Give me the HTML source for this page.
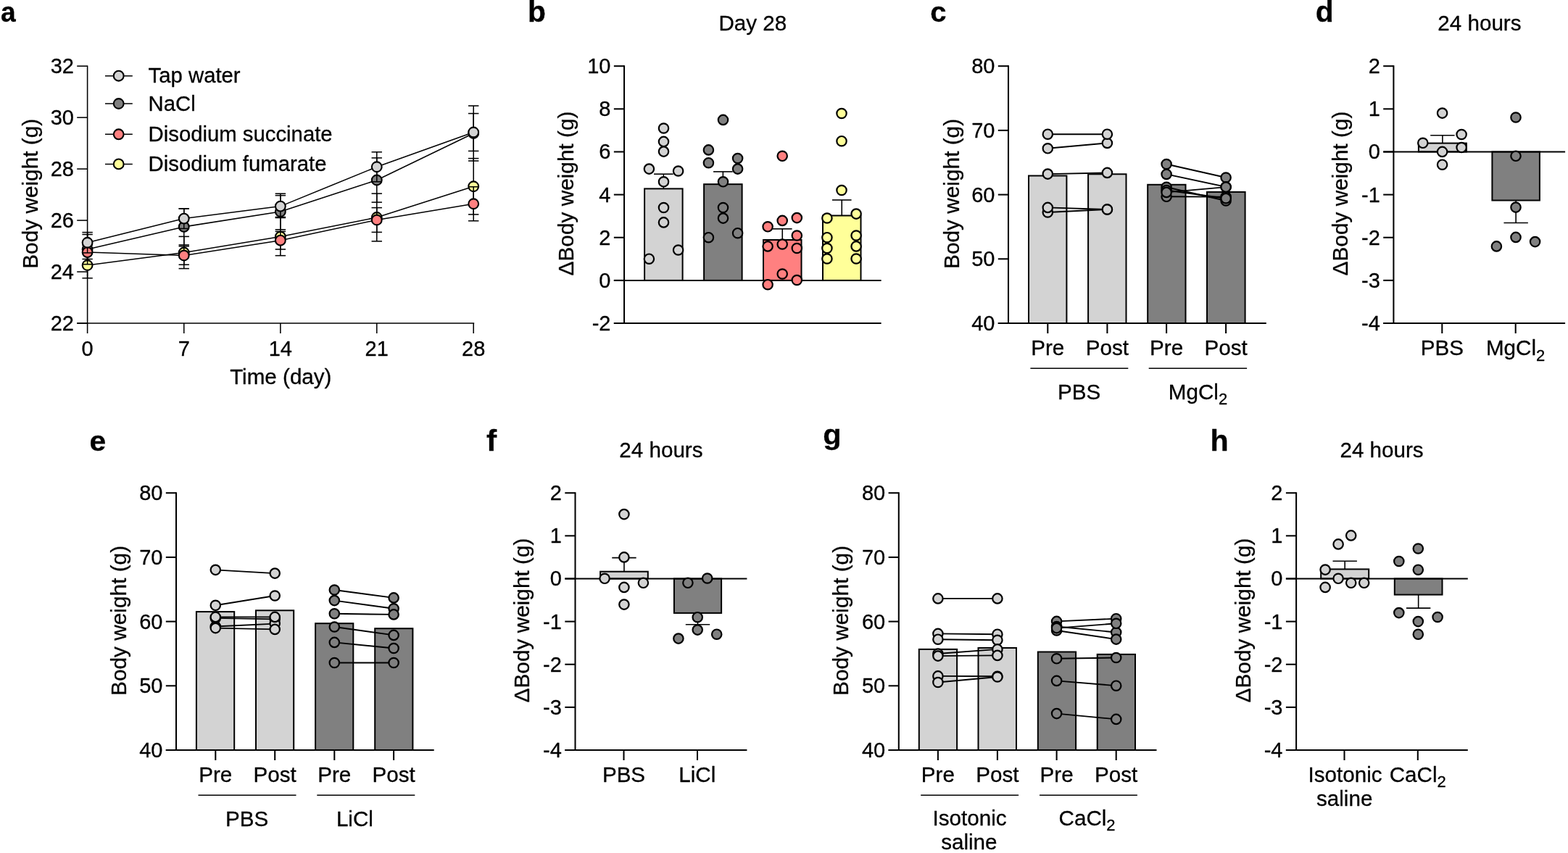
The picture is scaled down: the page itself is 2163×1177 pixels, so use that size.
<!DOCTYPE html>
<html lang="en">
<head>
<meta charset="utf-8">
<title>Body weight figure</title>
<style>
html,body{margin:0;padding:0;background:#fff}
body{width:2163px;height:1177px;overflow:hidden}
svg{display:block}
svg text{font-family:"Liberation Sans",sans-serif;font-size:29.6px;fill:#000;stroke:#000;stroke-width:0.3px;stroke-linejoin:round}
svg line,svg rect,svg circle,svg polyline{stroke:#000}
</style>
</head>
<body>
<svg width="2163" height="1177" viewBox="0 0 2163 1177" role="img" aria-label="Body weight figure, panels a to h">
<rect x="0" y="0" width="2163" height="1177" fill="#fff" stroke="none" style="stroke:none"/>
<text transform="translate(0.95 30.1) scale(0.93 0.98)" style="font-size:40px" font-weight="bold">a</text>
<text transform="translate(728.1 29.8) scale(1.02 1)" style="font-size:40px" font-weight="bold">b</text>
<text transform="translate(1283.3 30) scale(1 0.98)" style="font-size:40px" font-weight="bold">c</text>
<text transform="translate(1814.7 29.8) scale(1.02 1)" style="font-size:40px" font-weight="bold">d</text>
<text transform="translate(123.6 621.9) scale(1.02 0.98)" style="font-size:40px" font-weight="bold">e</text>
<text transform="translate(671 621.7) scale(1.06 1)" style="font-size:40px" font-weight="bold">f</text>
<text transform="translate(1135.3 613) scale(1.04 0.98)" style="font-size:40px" font-weight="bold">g</text>
<text transform="translate(1669.5 621.7) scale(1.03 1)" style="font-size:40px" font-weight="bold">h</text>
<text transform="translate(1038.3 42.2)" text-anchor="middle">Day 28</text>
<text transform="translate(2040.9 42.2)" text-anchor="middle">24 hours</text>
<text transform="translate(911.9 630.9)" text-anchor="middle">24 hours</text>
<text transform="translate(1906 630.9)" text-anchor="middle">24 hours</text>
<line x1="120.6" y1="90.42" x2="120.6" y2="446.77" stroke-width="1.55"/>
<line x1="106.2" y1="91.2" x2="120.6" y2="91.2" stroke-width="1.55"/>
<text transform="translate(102 101.1) scale(1 1.04)" text-anchor="end" style="font-size:29px">32</text>
<line x1="106.2" y1="162.16" x2="120.6" y2="162.16" stroke-width="1.55"/>
<text transform="translate(102 172.06) scale(1 1.04)" text-anchor="end" style="font-size:29px">30</text>
<line x1="106.2" y1="233.12" x2="120.6" y2="233.12" stroke-width="1.55"/>
<text transform="translate(102 243.02) scale(1 1.04)" text-anchor="end" style="font-size:29px">28</text>
<line x1="106.2" y1="304.08" x2="120.6" y2="304.08" stroke-width="1.55"/>
<text transform="translate(102 313.98) scale(1 1.04)" text-anchor="end" style="font-size:29px">26</text>
<line x1="106.2" y1="375.04" x2="120.6" y2="375.04" stroke-width="1.55"/>
<text transform="translate(102 384.94) scale(1 1.04)" text-anchor="end" style="font-size:29px">24</text>
<line x1="106.2" y1="446" x2="120.6" y2="446" stroke-width="1.55"/>
<text transform="translate(102 455.9) scale(1 1.04)" text-anchor="end" style="font-size:29px">22</text>
<line x1="106.2" y1="446" x2="654.2" y2="446" stroke-width="1.55"/>
<line x1="120.6" y1="446" x2="120.6" y2="460" stroke-width="1.55"/>
<text transform="translate(120.6 491.3) scale(1 1.04)" text-anchor="middle" style="font-size:29px">0</text>
<line x1="253.75" y1="446" x2="253.75" y2="460" stroke-width="1.55"/>
<text transform="translate(253.75 491.3) scale(1 1.04)" text-anchor="middle" style="font-size:29px">7</text>
<line x1="386.85" y1="446" x2="386.85" y2="460" stroke-width="1.55"/>
<text transform="translate(386.85 491.3) scale(1 1.04)" text-anchor="middle" style="font-size:29px">14</text>
<line x1="519.75" y1="446" x2="519.75" y2="460" stroke-width="1.55"/>
<text transform="translate(519.75 491.3) scale(1 1.04)" text-anchor="middle" style="font-size:29px">21</text>
<line x1="653.2" y1="446" x2="653.2" y2="460" stroke-width="1.55"/>
<text transform="translate(653.2 491.3) scale(1 1.04)" text-anchor="middle" style="font-size:29px">28</text>
<text transform="translate(387.3 530)" text-anchor="middle">Time (day)</text>
<text transform="translate(51.5 267.3) rotate(-90)" text-anchor="middle" style="font-size:29.8px">Body weight (g)</text>
<line x1="145" y1="104.7" x2="182.8" y2="104.7" stroke-width="1.55"/>
<circle cx="163.7" cy="104.7" r="6.9" fill="#d3d3d3" stroke-width="2.1"/>
<text transform="translate(204.6 113.8)" style="font-size:29.3px">Tap water</text>
<line x1="145" y1="143" x2="182.8" y2="143" stroke-width="1.55"/>
<circle cx="163.7" cy="143" r="6.9" fill="#808080" stroke-width="2.1"/>
<text transform="translate(204.6 152.5)" style="font-size:29.3px">NaCl</text>
<line x1="145" y1="185.3" x2="182.8" y2="185.3" stroke-width="1.55"/>
<circle cx="163.7" cy="185.3" r="6.9" fill="#ff8080" stroke-width="2.1"/>
<text transform="translate(204.6 194.8)" style="font-size:29.3px">Disodium succinate</text>
<line x1="145" y1="226.4" x2="182.8" y2="226.4" stroke-width="1.55"/>
<circle cx="163.7" cy="226.4" r="6.9" fill="#ffff99" stroke-width="2.1"/>
<text transform="translate(204.6 235.9)" style="font-size:29.3px">Disodium fumarate</text>
<line x1="120.6" y1="348.25" x2="120.6" y2="383.75" stroke-width="1.55"/>
<line x1="113.4" y1="348.25" x2="127.8" y2="348.25" stroke-width="1.55"/>
<line x1="113.4" y1="383.75" x2="127.8" y2="383.75" stroke-width="1.55"/>
<line x1="253.75" y1="326.4" x2="253.75" y2="370.6" stroke-width="1.55"/>
<line x1="246.55" y1="326.4" x2="260.95" y2="326.4" stroke-width="1.55"/>
<line x1="246.55" y1="370.6" x2="260.95" y2="370.6" stroke-width="1.55"/>
<line x1="386.85" y1="300.5" x2="386.85" y2="352.7" stroke-width="1.55"/>
<line x1="379.65" y1="300.5" x2="394.05" y2="300.5" stroke-width="1.55"/>
<line x1="379.65" y1="352.7" x2="394.05" y2="352.7" stroke-width="1.55"/>
<line x1="519.75" y1="267.1" x2="519.75" y2="332.9" stroke-width="1.55"/>
<line x1="512.55" y1="267.1" x2="526.95" y2="267.1" stroke-width="1.55"/>
<line x1="512.55" y1="332.9" x2="526.95" y2="332.9" stroke-width="1.55"/>
<line x1="653.2" y1="218.6" x2="653.2" y2="295.9" stroke-width="1.55"/>
<line x1="646" y1="218.6" x2="660.4" y2="218.6" stroke-width="1.55"/>
<line x1="646" y1="295.9" x2="660.4" y2="295.9" stroke-width="1.55"/>
<polyline points="120.6,366 253.75,348.5 386.85,326.6 519.75,300 653.2,257.25" fill="none" stroke-width="1.55"/>
<circle cx="120.6" cy="366" r="6.9" fill="#ffff99" stroke-width="2.1"/>
<circle cx="253.75" cy="348.5" r="6.9" fill="#ffff99" stroke-width="2.1"/>
<circle cx="386.85" cy="326.6" r="6.9" fill="#ffff99" stroke-width="2.1"/>
<circle cx="519.75" cy="300" r="6.9" fill="#ffff99" stroke-width="2.1"/>
<circle cx="653.2" cy="257.25" r="6.9" fill="#ffff99" stroke-width="2.1"/>
<line x1="120.6" y1="323.5" x2="120.6" y2="364.7" stroke-width="1.55"/>
<line x1="113.4" y1="323.5" x2="127.8" y2="323.5" stroke-width="1.55"/>
<line x1="113.4" y1="364.7" x2="127.8" y2="364.7" stroke-width="1.55"/>
<line x1="253.75" y1="287.9" x2="253.75" y2="337.9" stroke-width="1.55"/>
<line x1="246.55" y1="287.9" x2="260.95" y2="287.9" stroke-width="1.55"/>
<line x1="246.55" y1="337.9" x2="260.95" y2="337.9" stroke-width="1.55"/>
<line x1="386.85" y1="267.2" x2="386.85" y2="316.8" stroke-width="1.55"/>
<line x1="379.65" y1="267.2" x2="394.05" y2="267.2" stroke-width="1.55"/>
<line x1="379.65" y1="316.8" x2="394.05" y2="316.8" stroke-width="1.55"/>
<line x1="519.75" y1="217.9" x2="519.75" y2="279.1" stroke-width="1.55"/>
<line x1="512.55" y1="217.9" x2="526.95" y2="217.9" stroke-width="1.55"/>
<line x1="512.55" y1="279.1" x2="526.95" y2="279.1" stroke-width="1.55"/>
<line x1="653.2" y1="146" x2="653.2" y2="222" stroke-width="1.55"/>
<line x1="646" y1="146" x2="660.4" y2="146" stroke-width="1.55"/>
<line x1="646" y1="222" x2="660.4" y2="222" stroke-width="1.55"/>
<polyline points="120.6,344.1 253.75,312.9 386.85,292 519.75,248.5 653.2,184" fill="none" stroke-width="1.55"/>
<circle cx="120.6" cy="344.1" r="6.9" fill="#808080" stroke-width="2.1"/>
<circle cx="253.75" cy="312.9" r="6.9" fill="#808080" stroke-width="2.1"/>
<circle cx="386.85" cy="292" r="6.9" fill="#808080" stroke-width="2.1"/>
<circle cx="519.75" cy="248.5" r="6.9" fill="#808080" stroke-width="2.1"/>
<circle cx="653.2" cy="184" r="6.9" fill="#808080" stroke-width="2.1"/>
<line x1="120.6" y1="338.7" x2="120.6" y2="357.5" stroke-width="1.55"/>
<line x1="113.4" y1="338.7" x2="127.8" y2="338.7" stroke-width="1.55"/>
<line x1="113.4" y1="357.5" x2="127.8" y2="357.5" stroke-width="1.55"/>
<line x1="253.75" y1="339.75" x2="253.75" y2="365.25" stroke-width="1.55"/>
<line x1="246.55" y1="339.75" x2="260.95" y2="339.75" stroke-width="1.55"/>
<line x1="246.55" y1="365.25" x2="260.95" y2="365.25" stroke-width="1.55"/>
<line x1="386.85" y1="319.4" x2="386.85" y2="344" stroke-width="1.55"/>
<line x1="379.65" y1="319.4" x2="394.05" y2="319.4" stroke-width="1.55"/>
<line x1="379.65" y1="344" x2="394.05" y2="344" stroke-width="1.55"/>
<line x1="519.75" y1="286.6" x2="519.75" y2="320.4" stroke-width="1.55"/>
<line x1="512.55" y1="286.6" x2="526.95" y2="286.6" stroke-width="1.55"/>
<line x1="512.55" y1="320.4" x2="526.95" y2="320.4" stroke-width="1.55"/>
<line x1="653.2" y1="257.75" x2="653.2" y2="304.75" stroke-width="1.55"/>
<line x1="646" y1="257.75" x2="660.4" y2="257.75" stroke-width="1.55"/>
<line x1="646" y1="304.75" x2="660.4" y2="304.75" stroke-width="1.55"/>
<polyline points="120.6,348.1 253.75,352.5 386.85,331.7 519.75,303.5 653.2,281.25" fill="none" stroke-width="1.55"/>
<circle cx="120.6" cy="348.1" r="6.9" fill="#ff8080" stroke-width="2.1"/>
<circle cx="253.75" cy="352.5" r="6.9" fill="#ff8080" stroke-width="2.1"/>
<circle cx="386.85" cy="331.7" r="6.9" fill="#ff8080" stroke-width="2.1"/>
<circle cx="519.75" cy="303.5" r="6.9" fill="#ff8080" stroke-width="2.1"/>
<circle cx="653.2" cy="281.25" r="6.9" fill="#ff8080" stroke-width="2.1"/>
<line x1="120.6" y1="320.6" x2="120.6" y2="348.9" stroke-width="1.55"/>
<line x1="113.4" y1="320.6" x2="127.8" y2="320.6" stroke-width="1.55"/>
<line x1="113.4" y1="348.9" x2="127.8" y2="348.9" stroke-width="1.55"/>
<line x1="253.75" y1="287.75" x2="253.75" y2="315.45" stroke-width="1.55"/>
<line x1="246.55" y1="287.75" x2="260.95" y2="287.75" stroke-width="1.55"/>
<line x1="246.55" y1="315.45" x2="260.95" y2="315.45" stroke-width="1.55"/>
<line x1="386.85" y1="269.7" x2="386.85" y2="299.5" stroke-width="1.55"/>
<line x1="379.65" y1="269.7" x2="394.05" y2="269.7" stroke-width="1.55"/>
<line x1="379.65" y1="299.5" x2="394.05" y2="299.5" stroke-width="1.55"/>
<line x1="519.75" y1="209.75" x2="519.75" y2="250.75" stroke-width="1.55"/>
<line x1="512.55" y1="209.75" x2="526.95" y2="209.75" stroke-width="1.55"/>
<line x1="512.55" y1="250.75" x2="526.95" y2="250.75" stroke-width="1.55"/>
<line x1="653.2" y1="156.6" x2="653.2" y2="208.4" stroke-width="1.55"/>
<line x1="646" y1="156.6" x2="660.4" y2="156.6" stroke-width="1.55"/>
<line x1="646" y1="208.4" x2="660.4" y2="208.4" stroke-width="1.55"/>
<polyline points="120.6,334.75 253.75,301.6 386.85,284.6 519.75,230.25 653.2,182.5" fill="none" stroke-width="1.55"/>
<circle cx="120.6" cy="334.75" r="6.9" fill="#d3d3d3" stroke-width="2.1"/>
<circle cx="253.75" cy="301.6" r="6.9" fill="#d3d3d3" stroke-width="2.1"/>
<circle cx="386.85" cy="284.6" r="6.9" fill="#d3d3d3" stroke-width="2.1"/>
<circle cx="519.75" cy="230.25" r="6.9" fill="#d3d3d3" stroke-width="2.1"/>
<circle cx="653.2" cy="182.5" r="6.9" fill="#d3d3d3" stroke-width="2.1"/>
<rect x="889.1" y="260.4" width="52.5" height="126.5" fill="#d3d3d3" stroke-width="2"/>
<rect x="971.1" y="254.2" width="52.5" height="132.7" fill="#808080" stroke-width="2"/>
<rect x="1053" y="331" width="52.5" height="55.9" fill="#ff8080" stroke-width="2"/>
<rect x="1135" y="297.5" width="52.5" height="89.4" fill="#ffff99" stroke-width="2"/>
<line x1="861.05" y1="90.17" x2="861.05" y2="447.02" stroke-width="2.05"/>
<line x1="846.85" y1="91.2" x2="861.05" y2="91.2" stroke-width="2.05"/>
<text transform="translate(842.45 101.1) scale(1 1.04)" text-anchor="end" style="font-size:29px">10</text>
<line x1="846.85" y1="150.33" x2="861.05" y2="150.33" stroke-width="2.05"/>
<text transform="translate(842.45 160.23) scale(1 1.04)" text-anchor="end" style="font-size:29px">8</text>
<line x1="846.85" y1="209.47" x2="861.05" y2="209.47" stroke-width="2.05"/>
<text transform="translate(842.45 219.37) scale(1 1.04)" text-anchor="end" style="font-size:29px">6</text>
<line x1="846.85" y1="268.6" x2="861.05" y2="268.6" stroke-width="2.05"/>
<text transform="translate(842.45 278.5) scale(1 1.04)" text-anchor="end" style="font-size:29px">4</text>
<line x1="846.85" y1="327.73" x2="861.05" y2="327.73" stroke-width="2.05"/>
<text transform="translate(842.45 337.63) scale(1 1.04)" text-anchor="end" style="font-size:29px">2</text>
<line x1="846.85" y1="386.87" x2="861.05" y2="386.87" stroke-width="2.05"/>
<text transform="translate(842.45 396.77) scale(1 1.04)" text-anchor="end" style="font-size:29px">0</text>
<line x1="846.85" y1="446" x2="861.05" y2="446" stroke-width="2.05"/>
<text transform="translate(842.45 455.9) scale(1 1.04)" text-anchor="end" style="font-size:29px">-2</text>
<line x1="846.85" y1="446" x2="1215.6" y2="446" stroke-width="2.05"/>
<line x1="846.85" y1="386.9" x2="1215.6" y2="386.9" stroke-width="2.05"/>
<text transform="translate(790.6 267) rotate(-90)" text-anchor="middle" style="font-size:29.8px">ΔBody weight (g)</text>
<line x1="915.35" y1="260.4" x2="915.35" y2="240.2" stroke-width="1.6"/>
<line x1="902.05" y1="240.2" x2="928.65" y2="240.2" stroke-width="1.6"/>
<line x1="997.35" y1="254.2" x2="997.35" y2="236.9" stroke-width="1.6"/>
<line x1="984.05" y1="236.9" x2="1010.65" y2="236.9" stroke-width="1.6"/>
<line x1="1079.25" y1="331" x2="1079.25" y2="315.8" stroke-width="1.6"/>
<line x1="1065.95" y1="315.8" x2="1092.55" y2="315.8" stroke-width="1.6"/>
<line x1="1161.25" y1="297.5" x2="1161.25" y2="275.95" stroke-width="1.6"/>
<line x1="1147.95" y1="275.95" x2="1174.55" y2="275.95" stroke-width="1.6"/>
<circle cx="915.5" cy="177" r="6.7" fill="#d3d3d3" stroke-width="2.2"/>
<circle cx="915.5" cy="195.4" r="6.7" fill="#d3d3d3" stroke-width="2.2"/>
<circle cx="915.5" cy="209.1" r="6.7" fill="#d3d3d3" stroke-width="2.2"/>
<circle cx="895.4" cy="233.1" r="6.7" fill="#d3d3d3" stroke-width="2.2"/>
<circle cx="935.6" cy="236" r="6.7" fill="#d3d3d3" stroke-width="2.2"/>
<circle cx="915.5" cy="250.8" r="6.7" fill="#d3d3d3" stroke-width="2.2"/>
<circle cx="915.5" cy="286.5" r="6.7" fill="#d3d3d3" stroke-width="2.2"/>
<circle cx="915.5" cy="306.9" r="6.7" fill="#d3d3d3" stroke-width="2.2"/>
<circle cx="935.6" cy="345" r="6.7" fill="#d3d3d3" stroke-width="2.2"/>
<circle cx="895.4" cy="357.2" r="6.7" fill="#d3d3d3" stroke-width="2.2"/>
<circle cx="997.5" cy="165.4" r="6.7" fill="#808080" stroke-width="2.2"/>
<circle cx="977.4" cy="206.9" r="6.7" fill="#808080" stroke-width="2.2"/>
<circle cx="977.4" cy="224.7" r="6.7" fill="#808080" stroke-width="2.2"/>
<circle cx="1017.6" cy="218.5" r="6.7" fill="#808080" stroke-width="2.2"/>
<circle cx="1017.6" cy="233.1" r="6.7" fill="#808080" stroke-width="2.2"/>
<circle cx="997.5" cy="250.8" r="6.7" fill="#808080" stroke-width="2.2"/>
<circle cx="997.5" cy="286.5" r="6.7" fill="#808080" stroke-width="2.2"/>
<circle cx="997.5" cy="301.1" r="6.7" fill="#808080" stroke-width="2.2"/>
<circle cx="977.4" cy="327.7" r="6.7" fill="#808080" stroke-width="2.2"/>
<circle cx="1017.6" cy="321.7" r="6.7" fill="#808080" stroke-width="2.2"/>
<circle cx="1079.2" cy="215.3" r="6.7" fill="#ff8080" stroke-width="2.2"/>
<circle cx="1079.2" cy="304.4" r="6.7" fill="#ff8080" stroke-width="2.2"/>
<circle cx="1099.3" cy="300.6" r="6.7" fill="#ff8080" stroke-width="2.2"/>
<circle cx="1059.1" cy="312.8" r="6.7" fill="#ff8080" stroke-width="2.2"/>
<circle cx="1099.3" cy="325" r="6.7" fill="#ff8080" stroke-width="2.2"/>
<circle cx="1079.2" cy="337" r="6.7" fill="#ff8080" stroke-width="2.2"/>
<circle cx="1059.1" cy="339.9" r="6.7" fill="#ff8080" stroke-width="2.2"/>
<circle cx="1099.3" cy="342.5" r="6.7" fill="#ff8080" stroke-width="2.2"/>
<circle cx="1079.2" cy="378" r="6.7" fill="#ff8080" stroke-width="2.2"/>
<circle cx="1099.3" cy="386.5" r="6.7" fill="#ff8080" stroke-width="2.2"/>
<circle cx="1059.1" cy="392.7" r="6.7" fill="#ff8080" stroke-width="2.2"/>
<circle cx="1161" cy="156.5" r="6.7" fill="#ffff99" stroke-width="2.2"/>
<circle cx="1161" cy="194.7" r="6.7" fill="#ffff99" stroke-width="2.2"/>
<circle cx="1161" cy="262.5" r="6.7" fill="#ffff99" stroke-width="2.2"/>
<circle cx="1181.1" cy="295.1" r="6.7" fill="#ffff99" stroke-width="2.2"/>
<circle cx="1140.9" cy="301" r="6.7" fill="#ffff99" stroke-width="2.2"/>
<circle cx="1181.1" cy="325" r="6.7" fill="#ffff99" stroke-width="2.2"/>
<circle cx="1140.9" cy="327.7" r="6.7" fill="#ffff99" stroke-width="2.2"/>
<circle cx="1181.1" cy="339.9" r="6.7" fill="#ffff99" stroke-width="2.2"/>
<circle cx="1140.9" cy="342.5" r="6.7" fill="#ffff99" stroke-width="2.2"/>
<circle cx="1140.9" cy="357" r="6.7" fill="#ffff99" stroke-width="2.2"/>
<circle cx="1181.1" cy="357" r="6.7" fill="#ffff99" stroke-width="2.2"/>
<rect x="1419" y="242.5" width="52.4" height="203.5" fill="#d3d3d3" stroke-width="2"/>
<rect x="1501.1" y="240.3" width="52.4" height="205.7" fill="#d3d3d3" stroke-width="2"/>
<rect x="1583.2" y="254.8" width="52.3" height="191.2" fill="#808080" stroke-width="2"/>
<rect x="1665" y="264.9" width="52.6" height="181.1" fill="#808080" stroke-width="2"/>
<line x1="1391" y1="90.17" x2="1391" y2="447.02" stroke-width="2.05"/>
<line x1="1376.8" y1="91.2" x2="1391" y2="91.2" stroke-width="2.05"/>
<text transform="translate(1372.4 101.1) scale(1 1.04)" text-anchor="end" style="font-size:29px">80</text>
<line x1="1376.8" y1="179.9" x2="1391" y2="179.9" stroke-width="2.05"/>
<text transform="translate(1372.4 189.8) scale(1 1.04)" text-anchor="end" style="font-size:29px">70</text>
<line x1="1376.8" y1="268.6" x2="1391" y2="268.6" stroke-width="2.05"/>
<text transform="translate(1372.4 278.5) scale(1 1.04)" text-anchor="end" style="font-size:29px">60</text>
<line x1="1376.8" y1="357.3" x2="1391" y2="357.3" stroke-width="2.05"/>
<text transform="translate(1372.4 367.2) scale(1 1.04)" text-anchor="end" style="font-size:29px">50</text>
<line x1="1376.8" y1="446" x2="1391" y2="446" stroke-width="2.05"/>
<text transform="translate(1372.4 455.9) scale(1 1.04)" text-anchor="end" style="font-size:29px">40</text>
<line x1="1376.8" y1="446" x2="1746.8" y2="446" stroke-width="2.05"/>
<line x1="1445.3" y1="446" x2="1445.3" y2="460" stroke-width="2.05"/>
<line x1="1527.4" y1="446" x2="1527.4" y2="460" stroke-width="2.05"/>
<line x1="1609.1" y1="446" x2="1609.1" y2="460" stroke-width="2.05"/>
<line x1="1691.1" y1="446" x2="1691.1" y2="460" stroke-width="2.05"/>
<line x1="1445.3" y1="293" x2="1527.4" y2="289" stroke-width="1.9"/>
<line x1="1445.3" y1="286.4" x2="1527.4" y2="289" stroke-width="1.9"/>
<line x1="1445.3" y1="240.1" x2="1527.4" y2="238.4" stroke-width="1.9"/>
<line x1="1445.3" y1="204.8" x2="1527.4" y2="197.4" stroke-width="1.9"/>
<line x1="1445.3" y1="185.2" x2="1527.4" y2="185.2" stroke-width="1.9"/>
<circle cx="1445.3" cy="293" r="6.7" fill="#d3d3d3" stroke-width="2.2"/>
<circle cx="1445.3" cy="286.4" r="6.7" fill="#d3d3d3" stroke-width="2.2"/>
<circle cx="1445.3" cy="240.1" r="6.7" fill="#d3d3d3" stroke-width="2.2"/>
<circle cx="1445.3" cy="204.8" r="6.7" fill="#d3d3d3" stroke-width="2.2"/>
<circle cx="1445.3" cy="185.2" r="6.7" fill="#d3d3d3" stroke-width="2.2"/>
<circle cx="1527.4" cy="289" r="6.7" fill="#d3d3d3" stroke-width="2.2"/>
<circle cx="1527.4" cy="289" r="6.7" fill="#d3d3d3" stroke-width="2.2"/>
<circle cx="1527.4" cy="238.4" r="6.7" fill="#d3d3d3" stroke-width="2.2"/>
<circle cx="1527.4" cy="197.4" r="6.7" fill="#d3d3d3" stroke-width="2.2"/>
<circle cx="1527.4" cy="185.2" r="6.7" fill="#d3d3d3" stroke-width="2.2"/>
<line x1="1609.1" y1="226.5" x2="1691.1" y2="245" stroke-width="1.9"/>
<line x1="1609.1" y1="240.4" x2="1691.1" y2="257.9" stroke-width="1.9"/>
<line x1="1609.1" y1="271.3" x2="1691.1" y2="271.6" stroke-width="1.9"/>
<line x1="1609.1" y1="258.3" x2="1691.1" y2="277" stroke-width="1.9"/>
<line x1="1609.1" y1="262.5" x2="1691.1" y2="273.7" stroke-width="1.9"/>
<line x1="1609.1" y1="265.4" x2="1691.1" y2="258.1" stroke-width="1.9"/>
<circle cx="1609.1" cy="226.5" r="6.7" fill="#808080" stroke-width="2.2"/>
<circle cx="1609.1" cy="240.4" r="6.7" fill="#808080" stroke-width="2.2"/>
<circle cx="1609.1" cy="271.3" r="6.7" fill="#808080" stroke-width="2.2"/>
<circle cx="1609.1" cy="258.3" r="6.7" fill="#808080" stroke-width="2.2"/>
<circle cx="1609.1" cy="262.5" r="6.7" fill="#808080" stroke-width="2.2"/>
<circle cx="1609.1" cy="265.4" r="6.7" fill="#808080" stroke-width="2.2"/>
<circle cx="1691.1" cy="245" r="6.7" fill="#808080" stroke-width="2.2"/>
<circle cx="1691.1" cy="257.9" r="6.7" fill="#808080" stroke-width="2.2"/>
<circle cx="1691.1" cy="271.6" r="6.7" fill="#808080" stroke-width="2.2"/>
<circle cx="1691.1" cy="277" r="6.7" fill="#808080" stroke-width="2.2"/>
<circle cx="1691.1" cy="273.7" r="6.7" fill="#808080" stroke-width="2.2"/>
<circle cx="1691.1" cy="258.1" r="6.7" fill="#808080" stroke-width="2.2"/>
<text transform="translate(1445.3 490.3)" text-anchor="middle">Pre</text>
<text transform="translate(1527.4 490.3)" text-anchor="middle">Post</text>
<text transform="translate(1609.1 490.3)" text-anchor="middle">Pre</text>
<text transform="translate(1691.1 490.3)" text-anchor="middle">Post</text>
<line x1="1421.4" y1="508.2" x2="1556.3" y2="508.2" stroke-width="1.6"/>
<line x1="1584.7" y1="508.2" x2="1720.1" y2="508.2" stroke-width="1.6"/>
<text transform="translate(1322.7 267.4) rotate(-90)" text-anchor="middle" style="font-size:29.8px">Body weight (g)</text>
<text transform="translate(1488.6 550.8)" text-anchor="middle">PBS</text>
<text transform="translate(1652.5 550.8)" text-anchor="middle">MgCl<tspan font-size="22" dy="7.4">2</tspan></text>
<rect x="270.9" y="844.1" width="52.3" height="190.9" fill="#d3d3d3" stroke-width="2"/>
<rect x="353" y="842.3" width="52.2" height="192.7" fill="#d3d3d3" stroke-width="2"/>
<rect x="435.1" y="860.2" width="52.2" height="174.8" fill="#808080" stroke-width="2"/>
<rect x="517.2" y="867.2" width="52.2" height="167.8" fill="#808080" stroke-width="2"/>
<line x1="243" y1="679.18" x2="243" y2="1036.03" stroke-width="2.05"/>
<line x1="228.8" y1="680.2" x2="243" y2="680.2" stroke-width="2.05"/>
<text transform="translate(224.4 690.1) scale(1 1.04)" text-anchor="end" style="font-size:29px">80</text>
<line x1="228.8" y1="768.9" x2="243" y2="768.9" stroke-width="2.05"/>
<text transform="translate(224.4 778.8) scale(1 1.04)" text-anchor="end" style="font-size:29px">70</text>
<line x1="228.8" y1="857.6" x2="243" y2="857.6" stroke-width="2.05"/>
<text transform="translate(224.4 867.5) scale(1 1.04)" text-anchor="end" style="font-size:29px">60</text>
<line x1="228.8" y1="946.3" x2="243" y2="946.3" stroke-width="2.05"/>
<text transform="translate(224.4 956.2) scale(1 1.04)" text-anchor="end" style="font-size:29px">50</text>
<line x1="228.8" y1="1035" x2="243" y2="1035" stroke-width="2.05"/>
<text transform="translate(224.4 1044.9) scale(1 1.04)" text-anchor="end" style="font-size:29px">40</text>
<line x1="228.8" y1="1035" x2="598.7" y2="1035" stroke-width="2.05"/>
<line x1="297.3" y1="1035" x2="297.3" y2="1049" stroke-width="2.05"/>
<line x1="379.2" y1="1035" x2="379.2" y2="1049" stroke-width="2.05"/>
<line x1="461.3" y1="1035" x2="461.3" y2="1049" stroke-width="2.05"/>
<line x1="543.1" y1="1035" x2="543.1" y2="1049" stroke-width="2.05"/>
<line x1="297.3" y1="786.35" x2="379.2" y2="791.1" stroke-width="1.9"/>
<line x1="297.3" y1="835.3" x2="379.2" y2="822" stroke-width="1.9"/>
<line x1="297.3" y1="852.9" x2="379.2" y2="854.4" stroke-width="1.9"/>
<line x1="297.3" y1="864.5" x2="379.2" y2="860.6" stroke-width="1.9"/>
<line x1="297.3" y1="851.4" x2="379.2" y2="851.4" stroke-width="1.9"/>
<line x1="297.3" y1="866.6" x2="379.2" y2="868.4" stroke-width="1.9"/>
<circle cx="297.3" cy="786.35" r="6.7" fill="#d3d3d3" stroke-width="2.2"/>
<circle cx="297.3" cy="835.3" r="6.7" fill="#d3d3d3" stroke-width="2.2"/>
<circle cx="297.3" cy="852.9" r="6.7" fill="#d3d3d3" stroke-width="2.2"/>
<circle cx="297.3" cy="864.5" r="6.7" fill="#d3d3d3" stroke-width="2.2"/>
<circle cx="297.3" cy="851.4" r="6.7" fill="#d3d3d3" stroke-width="2.2"/>
<circle cx="297.3" cy="866.6" r="6.7" fill="#d3d3d3" stroke-width="2.2"/>
<circle cx="379.2" cy="791.1" r="6.7" fill="#d3d3d3" stroke-width="2.2"/>
<circle cx="379.2" cy="822" r="6.7" fill="#d3d3d3" stroke-width="2.2"/>
<circle cx="379.2" cy="854.4" r="6.7" fill="#d3d3d3" stroke-width="2.2"/>
<circle cx="379.2" cy="860.6" r="6.7" fill="#d3d3d3" stroke-width="2.2"/>
<circle cx="379.2" cy="851.4" r="6.7" fill="#d3d3d3" stroke-width="2.2"/>
<circle cx="379.2" cy="868.4" r="6.7" fill="#d3d3d3" stroke-width="2.2"/>
<line x1="461.3" y1="814" x2="543.1" y2="824.9" stroke-width="1.9"/>
<line x1="461.3" y1="828.6" x2="543.1" y2="839.8" stroke-width="1.9"/>
<line x1="461.3" y1="846.8" x2="543.1" y2="847.9" stroke-width="1.9"/>
<line x1="461.3" y1="865" x2="543.1" y2="876.4" stroke-width="1.9"/>
<line x1="461.3" y1="886.4" x2="543.1" y2="894.5" stroke-width="1.9"/>
<line x1="461.3" y1="914.5" x2="543.1" y2="914.5" stroke-width="1.9"/>
<circle cx="461.3" cy="814" r="6.7" fill="#808080" stroke-width="2.2"/>
<circle cx="461.3" cy="828.6" r="6.7" fill="#808080" stroke-width="2.2"/>
<circle cx="461.3" cy="846.8" r="6.7" fill="#808080" stroke-width="2.2"/>
<circle cx="461.3" cy="865" r="6.7" fill="#808080" stroke-width="2.2"/>
<circle cx="461.3" cy="886.4" r="6.7" fill="#808080" stroke-width="2.2"/>
<circle cx="461.3" cy="914.5" r="6.7" fill="#808080" stroke-width="2.2"/>
<circle cx="543.1" cy="824.9" r="6.7" fill="#808080" stroke-width="2.2"/>
<circle cx="543.1" cy="839.8" r="6.7" fill="#808080" stroke-width="2.2"/>
<circle cx="543.1" cy="847.9" r="6.7" fill="#808080" stroke-width="2.2"/>
<circle cx="543.1" cy="876.4" r="6.7" fill="#808080" stroke-width="2.2"/>
<circle cx="543.1" cy="894.5" r="6.7" fill="#808080" stroke-width="2.2"/>
<circle cx="543.1" cy="914.5" r="6.7" fill="#808080" stroke-width="2.2"/>
<text transform="translate(297.3 1079)" text-anchor="middle">Pre</text>
<text transform="translate(379.2 1079)" text-anchor="middle">Post</text>
<text transform="translate(461.3 1079)" text-anchor="middle">Pre</text>
<text transform="translate(543.1 1079)" text-anchor="middle">Post</text>
<line x1="273.5" y1="1097.3" x2="408.5" y2="1097.3" stroke-width="1.6"/>
<line x1="437.3" y1="1097.3" x2="572.3" y2="1097.3" stroke-width="1.6"/>
<text transform="translate(174 856.4) rotate(-90)" text-anchor="middle" style="font-size:29.8px">Body weight (g)</text>
<text transform="translate(340.6 1139.7)" text-anchor="middle">PBS</text>
<text transform="translate(489.4 1139.7)" text-anchor="middle">LiCl</text>
<rect x="1267.8" y="895.9" width="52.3" height="139.1" fill="#d3d3d3" stroke-width="2"/>
<rect x="1349.5" y="894" width="52.5" height="141" fill="#d3d3d3" stroke-width="2"/>
<rect x="1431.8" y="899.5" width="52.3" height="135.5" fill="#808080" stroke-width="2"/>
<rect x="1513.7" y="902.9" width="52.3" height="132.1" fill="#808080" stroke-width="2"/>
<line x1="1239.8" y1="679.18" x2="1239.8" y2="1036.03" stroke-width="2.05"/>
<line x1="1225.6" y1="680.2" x2="1239.8" y2="680.2" stroke-width="2.05"/>
<text transform="translate(1221.2 690.1) scale(1 1.04)" text-anchor="end" style="font-size:29px">80</text>
<line x1="1225.6" y1="768.9" x2="1239.8" y2="768.9" stroke-width="2.05"/>
<text transform="translate(1221.2 778.8) scale(1 1.04)" text-anchor="end" style="font-size:29px">70</text>
<line x1="1225.6" y1="857.6" x2="1239.8" y2="857.6" stroke-width="2.05"/>
<text transform="translate(1221.2 867.5) scale(1 1.04)" text-anchor="end" style="font-size:29px">60</text>
<line x1="1225.6" y1="946.3" x2="1239.8" y2="946.3" stroke-width="2.05"/>
<text transform="translate(1221.2 956.2) scale(1 1.04)" text-anchor="end" style="font-size:29px">50</text>
<line x1="1225.6" y1="1035" x2="1239.8" y2="1035" stroke-width="2.05"/>
<text transform="translate(1221.2 1044.9) scale(1 1.04)" text-anchor="end" style="font-size:29px">40</text>
<line x1="1225.6" y1="1035" x2="1595.5" y2="1035" stroke-width="2.05"/>
<line x1="1293.9" y1="1035" x2="1293.9" y2="1049" stroke-width="2.05"/>
<line x1="1375.9" y1="1035" x2="1375.9" y2="1049" stroke-width="2.05"/>
<line x1="1457.6" y1="1035" x2="1457.6" y2="1049" stroke-width="2.05"/>
<line x1="1539.7" y1="1035" x2="1539.7" y2="1049" stroke-width="2.05"/>
<line x1="1293.9" y1="825.9" x2="1375.9" y2="825.9" stroke-width="1.9"/>
<line x1="1293.9" y1="874.4" x2="1375.9" y2="875.2" stroke-width="1.9"/>
<line x1="1293.9" y1="882.2" x2="1375.9" y2="883.3" stroke-width="1.9"/>
<line x1="1293.9" y1="902" x2="1375.9" y2="895.9" stroke-width="1.9"/>
<line x1="1293.9" y1="905.1" x2="1375.9" y2="904.4" stroke-width="1.9"/>
<line x1="1293.9" y1="932.9" x2="1375.9" y2="933.2" stroke-width="1.9"/>
<line x1="1293.9" y1="941.5" x2="1375.9" y2="934" stroke-width="1.9"/>
<circle cx="1293.9" cy="825.9" r="6.7" fill="#d3d3d3" stroke-width="2.2"/>
<circle cx="1293.9" cy="874.4" r="6.7" fill="#d3d3d3" stroke-width="2.2"/>
<circle cx="1293.9" cy="882.2" r="6.7" fill="#d3d3d3" stroke-width="2.2"/>
<circle cx="1293.9" cy="902" r="6.7" fill="#d3d3d3" stroke-width="2.2"/>
<circle cx="1293.9" cy="905.1" r="6.7" fill="#d3d3d3" stroke-width="2.2"/>
<circle cx="1293.9" cy="932.9" r="6.7" fill="#d3d3d3" stroke-width="2.2"/>
<circle cx="1293.9" cy="941.5" r="6.7" fill="#d3d3d3" stroke-width="2.2"/>
<circle cx="1375.9" cy="825.9" r="6.7" fill="#d3d3d3" stroke-width="2.2"/>
<circle cx="1375.9" cy="875.2" r="6.7" fill="#d3d3d3" stroke-width="2.2"/>
<circle cx="1375.9" cy="883.3" r="6.7" fill="#d3d3d3" stroke-width="2.2"/>
<circle cx="1375.9" cy="895.9" r="6.7" fill="#d3d3d3" stroke-width="2.2"/>
<circle cx="1375.9" cy="904.4" r="6.7" fill="#d3d3d3" stroke-width="2.2"/>
<circle cx="1375.9" cy="933.2" r="6.7" fill="#d3d3d3" stroke-width="2.2"/>
<circle cx="1375.9" cy="934" r="6.7" fill="#d3d3d3" stroke-width="2.2"/>
<line x1="1457.6" y1="857.4" x2="1539.7" y2="853.7" stroke-width="1.9"/>
<line x1="1457.6" y1="864.5" x2="1539.7" y2="872.5" stroke-width="1.9"/>
<line x1="1457.6" y1="870" x2="1539.7" y2="882.1" stroke-width="1.9"/>
<line x1="1457.6" y1="866.6" x2="1539.7" y2="860.3" stroke-width="1.9"/>
<line x1="1457.6" y1="908.8" x2="1539.7" y2="907.5" stroke-width="1.9"/>
<line x1="1457.6" y1="939.4" x2="1539.7" y2="946.2" stroke-width="1.9"/>
<line x1="1457.6" y1="984.6" x2="1539.7" y2="992.4" stroke-width="1.9"/>
<circle cx="1457.6" cy="857.4" r="6.7" fill="#808080" stroke-width="2.2"/>
<circle cx="1457.6" cy="864.5" r="6.7" fill="#808080" stroke-width="2.2"/>
<circle cx="1457.6" cy="870" r="6.7" fill="#808080" stroke-width="2.2"/>
<circle cx="1457.6" cy="866.6" r="6.7" fill="#808080" stroke-width="2.2"/>
<circle cx="1457.6" cy="908.8" r="6.7" fill="#808080" stroke-width="2.2"/>
<circle cx="1457.6" cy="939.4" r="6.7" fill="#808080" stroke-width="2.2"/>
<circle cx="1457.6" cy="984.6" r="6.7" fill="#808080" stroke-width="2.2"/>
<circle cx="1539.7" cy="853.7" r="6.7" fill="#808080" stroke-width="2.2"/>
<circle cx="1539.7" cy="872.5" r="6.7" fill="#808080" stroke-width="2.2"/>
<circle cx="1539.7" cy="882.1" r="6.7" fill="#808080" stroke-width="2.2"/>
<circle cx="1539.7" cy="860.3" r="6.7" fill="#808080" stroke-width="2.2"/>
<circle cx="1539.7" cy="907.5" r="6.7" fill="#808080" stroke-width="2.2"/>
<circle cx="1539.7" cy="946.2" r="6.7" fill="#808080" stroke-width="2.2"/>
<circle cx="1539.7" cy="992.4" r="6.7" fill="#808080" stroke-width="2.2"/>
<text transform="translate(1293.9 1079)" text-anchor="middle">Pre</text>
<text transform="translate(1375.9 1079)" text-anchor="middle">Post</text>
<text transform="translate(1457.6 1079)" text-anchor="middle">Pre</text>
<text transform="translate(1539.7 1079)" text-anchor="middle">Post</text>
<line x1="1270.2" y1="1097.3" x2="1405.1" y2="1097.3" stroke-width="1.6"/>
<line x1="1434" y1="1097.3" x2="1568.9" y2="1097.3" stroke-width="1.6"/>
<text transform="translate(1170.3 856.4) rotate(-90)" text-anchor="middle" style="font-size:29.8px">Body weight (g)</text>
<text transform="translate(1337.6 1138.9)" text-anchor="middle">Isotonic</text>
<text transform="translate(1336.8 1172.3)" text-anchor="middle">saline</text>
<text transform="translate(1499.6 1139.1)" text-anchor="middle">CaCl<tspan font-size="22" dy="6.4">2</tspan></text>
<rect x="1956.9" y="197.6" width="66" height="11.87" fill="#d3d3d3" stroke-width="2"/>
<rect x="2058.4" y="209.47" width="65.5" height="67.03" fill="#808080" stroke-width="2"/>
<line x1="1922.4" y1="90.17" x2="1922.4" y2="447.02" stroke-width="2.05"/>
<line x1="1908.2" y1="91.2" x2="1922.4" y2="91.2" stroke-width="2.05"/>
<text transform="translate(1903.8 101.1) scale(1 1.04)" text-anchor="end" style="font-size:29px">2</text>
<line x1="1908.2" y1="150.33" x2="1922.4" y2="150.33" stroke-width="2.05"/>
<text transform="translate(1903.8 160.23) scale(1 1.04)" text-anchor="end" style="font-size:29px">1</text>
<line x1="1908.2" y1="209.47" x2="1922.4" y2="209.47" stroke-width="2.05"/>
<text transform="translate(1903.8 219.37) scale(1 1.04)" text-anchor="end" style="font-size:29px">0</text>
<line x1="1908.2" y1="268.6" x2="1922.4" y2="268.6" stroke-width="2.05"/>
<text transform="translate(1903.8 278.5) scale(1 1.04)" text-anchor="end" style="font-size:29px">-1</text>
<line x1="1908.2" y1="327.73" x2="1922.4" y2="327.73" stroke-width="2.05"/>
<text transform="translate(1903.8 337.63) scale(1 1.04)" text-anchor="end" style="font-size:29px">-2</text>
<line x1="1908.2" y1="386.87" x2="1922.4" y2="386.87" stroke-width="2.05"/>
<text transform="translate(1903.8 396.77) scale(1 1.04)" text-anchor="end" style="font-size:29px">-3</text>
<line x1="1908.2" y1="446" x2="1922.4" y2="446" stroke-width="2.05"/>
<text transform="translate(1903.8 455.9) scale(1 1.04)" text-anchor="end" style="font-size:29px">-4</text>
<line x1="1908.2" y1="446" x2="2159.1" y2="446" stroke-width="2.05"/>
<line x1="1908.2" y1="209.47" x2="2159.1" y2="209.47" stroke-width="2.05"/>
<line x1="1989.3" y1="446" x2="1989.3" y2="460" stroke-width="2.05"/>
<line x1="2090.7" y1="446" x2="2090.7" y2="460" stroke-width="2.05"/>
<line x1="1989.9" y1="197.6" x2="1989.9" y2="186.7" stroke-width="1.6"/>
<line x1="1973.2" y1="186.7" x2="2006.6" y2="186.7" stroke-width="1.6"/>
<line x1="2091.15" y1="276.5" x2="2091.15" y2="307.5" stroke-width="1.6"/>
<line x1="2074.45" y1="307.5" x2="2107.85" y2="307.5" stroke-width="1.6"/>
<circle cx="1989.6" cy="156.1" r="6.7" fill="#d3d3d3" stroke-width="2.2"/>
<circle cx="2016.1" cy="185.5" r="6.7" fill="#d3d3d3" stroke-width="2.2"/>
<circle cx="1962.8" cy="197.3" r="6.7" fill="#d3d3d3" stroke-width="2.2"/>
<circle cx="2016.1" cy="203.5" r="6.7" fill="#d3d3d3" stroke-width="2.2"/>
<circle cx="1989.6" cy="209.4" r="6.7" fill="#d3d3d3" stroke-width="2.2"/>
<circle cx="1989.6" cy="227.2" r="6.7" fill="#d3d3d3" stroke-width="2.2"/>
<circle cx="2091" cy="162" r="6.7" fill="#808080" stroke-width="2.2"/>
<circle cx="2091" cy="215.3" r="6.7" fill="#808080" stroke-width="2.2"/>
<circle cx="2091" cy="286.1" r="6.7" fill="#808080" stroke-width="2.2"/>
<circle cx="2091" cy="327.4" r="6.7" fill="#808080" stroke-width="2.2"/>
<circle cx="2064.4" cy="339.9" r="6.7" fill="#808080" stroke-width="2.2"/>
<circle cx="2117.6" cy="333.6" r="6.7" fill="#808080" stroke-width="2.2"/>
<text transform="translate(1858.9 267) rotate(-90)" text-anchor="middle" style="font-size:29.8px">ΔBody weight (g)</text>
<text transform="translate(1989.3 490.3)" text-anchor="middle">PBS</text>
<text transform="translate(2090.6 490.3)" text-anchor="middle">MgCl<tspan font-size="22" dy="7.4">2</tspan></text>
<rect x="828.1" y="788.7" width="65.7" height="9.77" fill="#d3d3d3" stroke-width="2"/>
<rect x="929.9" y="798.47" width="65.2" height="47.43" fill="#808080" stroke-width="2"/>
<line x1="793.5" y1="679.18" x2="793.5" y2="1036.03" stroke-width="2.05"/>
<line x1="779.3" y1="680.2" x2="793.5" y2="680.2" stroke-width="2.05"/>
<text transform="translate(774.9 690.1) scale(1 1.04)" text-anchor="end" style="font-size:29px">2</text>
<line x1="779.3" y1="739.33" x2="793.5" y2="739.33" stroke-width="2.05"/>
<text transform="translate(774.9 749.23) scale(1 1.04)" text-anchor="end" style="font-size:29px">1</text>
<line x1="779.3" y1="798.47" x2="793.5" y2="798.47" stroke-width="2.05"/>
<text transform="translate(774.9 808.37) scale(1 1.04)" text-anchor="end" style="font-size:29px">0</text>
<line x1="779.3" y1="857.6" x2="793.5" y2="857.6" stroke-width="2.05"/>
<text transform="translate(774.9 867.5) scale(1 1.04)" text-anchor="end" style="font-size:29px">-1</text>
<line x1="779.3" y1="916.73" x2="793.5" y2="916.73" stroke-width="2.05"/>
<text transform="translate(774.9 926.63) scale(1 1.04)" text-anchor="end" style="font-size:29px">-2</text>
<line x1="779.3" y1="975.87" x2="793.5" y2="975.87" stroke-width="2.05"/>
<text transform="translate(774.9 985.77) scale(1 1.04)" text-anchor="end" style="font-size:29px">-3</text>
<line x1="779.3" y1="1035" x2="793.5" y2="1035" stroke-width="2.05"/>
<text transform="translate(774.9 1044.9) scale(1 1.04)" text-anchor="end" style="font-size:29px">-4</text>
<line x1="779.3" y1="1035" x2="1030.4" y2="1035" stroke-width="2.05"/>
<line x1="779.3" y1="798.47" x2="1030.4" y2="798.47" stroke-width="2.05"/>
<line x1="860.5" y1="1035" x2="860.5" y2="1049" stroke-width="2.05"/>
<line x1="962" y1="1035" x2="962" y2="1049" stroke-width="2.05"/>
<line x1="860.95" y1="788.7" x2="860.95" y2="769.6" stroke-width="1.6"/>
<line x1="844.25" y1="769.6" x2="877.65" y2="769.6" stroke-width="1.6"/>
<line x1="962.5" y1="845.9" x2="962.5" y2="861.7" stroke-width="1.6"/>
<line x1="945.8" y1="861.7" x2="979.2" y2="861.7" stroke-width="1.6"/>
<circle cx="860.9" cy="709.6" r="6.7" fill="#d3d3d3" stroke-width="2.2"/>
<circle cx="860.9" cy="768.9" r="6.7" fill="#d3d3d3" stroke-width="2.2"/>
<circle cx="834.1" cy="798.3" r="6.7" fill="#d3d3d3" stroke-width="2.2"/>
<circle cx="887.4" cy="804.3" r="6.7" fill="#d3d3d3" stroke-width="2.2"/>
<circle cx="860.9" cy="810.4" r="6.7" fill="#d3d3d3" stroke-width="2.2"/>
<circle cx="860.9" cy="834.1" r="6.7" fill="#d3d3d3" stroke-width="2.2"/>
<circle cx="975.7" cy="798" r="6.7" fill="#808080" stroke-width="2.2"/>
<circle cx="948.9" cy="804.3" r="6.7" fill="#808080" stroke-width="2.2"/>
<circle cx="962.2" cy="851.7" r="6.7" fill="#808080" stroke-width="2.2"/>
<circle cx="962.2" cy="869.1" r="6.7" fill="#808080" stroke-width="2.2"/>
<circle cx="988.7" cy="875.2" r="6.7" fill="#808080" stroke-width="2.2"/>
<circle cx="935.9" cy="881.1" r="6.7" fill="#808080" stroke-width="2.2"/>
<text transform="translate(730.1 856) rotate(-90)" text-anchor="middle" style="font-size:29.8px">ΔBody weight (g)</text>
<text transform="translate(860.5 1079)" text-anchor="middle">PBS</text>
<text transform="translate(961.8 1079)" text-anchor="middle">LiCl</text>
<rect x="1822.2" y="785.4" width="66" height="13.07" fill="#d3d3d3" stroke-width="2"/>
<rect x="1923.8" y="798.47" width="65.7" height="22.13" fill="#808080" stroke-width="2"/>
<line x1="1788.1" y1="679.18" x2="1788.1" y2="1036.03" stroke-width="2.05"/>
<line x1="1773.9" y1="680.2" x2="1788.1" y2="680.2" stroke-width="2.05"/>
<text transform="translate(1769.5 690.1) scale(1 1.04)" text-anchor="end" style="font-size:29px">2</text>
<line x1="1773.9" y1="739.33" x2="1788.1" y2="739.33" stroke-width="2.05"/>
<text transform="translate(1769.5 749.23) scale(1 1.04)" text-anchor="end" style="font-size:29px">1</text>
<line x1="1773.9" y1="798.47" x2="1788.1" y2="798.47" stroke-width="2.05"/>
<text transform="translate(1769.5 808.37) scale(1 1.04)" text-anchor="end" style="font-size:29px">0</text>
<line x1="1773.9" y1="857.6" x2="1788.1" y2="857.6" stroke-width="2.05"/>
<text transform="translate(1769.5 867.5) scale(1 1.04)" text-anchor="end" style="font-size:29px">-1</text>
<line x1="1773.9" y1="916.73" x2="1788.1" y2="916.73" stroke-width="2.05"/>
<text transform="translate(1769.5 926.63) scale(1 1.04)" text-anchor="end" style="font-size:29px">-2</text>
<line x1="1773.9" y1="975.87" x2="1788.1" y2="975.87" stroke-width="2.05"/>
<text transform="translate(1769.5 985.77) scale(1 1.04)" text-anchor="end" style="font-size:29px">-3</text>
<line x1="1773.9" y1="1035" x2="1788.1" y2="1035" stroke-width="2.05"/>
<text transform="translate(1769.5 1044.9) scale(1 1.04)" text-anchor="end" style="font-size:29px">-4</text>
<line x1="1773.9" y1="1035" x2="2024.8" y2="1035" stroke-width="2.05"/>
<line x1="1773.9" y1="798.47" x2="2024.8" y2="798.47" stroke-width="2.05"/>
<line x1="1854.5" y1="1035" x2="1854.5" y2="1049" stroke-width="2.05"/>
<line x1="1955.8" y1="1035" x2="1955.8" y2="1049" stroke-width="2.05"/>
<line x1="1855.2" y1="785.4" x2="1855.2" y2="774.2" stroke-width="1.6"/>
<line x1="1838.5" y1="774.2" x2="1871.9" y2="774.2" stroke-width="1.6"/>
<line x1="1956.65" y1="820.6" x2="1956.65" y2="839.1" stroke-width="1.6"/>
<line x1="1939.95" y1="839.1" x2="1973.35" y2="839.1" stroke-width="1.6"/>
<circle cx="1863.7" cy="738.9" r="6.7" fill="#d3d3d3" stroke-width="2.2"/>
<circle cx="1846.1" cy="750.9" r="6.7" fill="#d3d3d3" stroke-width="2.2"/>
<circle cx="1828.1" cy="786.1" r="6.7" fill="#d3d3d3" stroke-width="2.2"/>
<circle cx="1846.1" cy="798.3" r="6.7" fill="#d3d3d3" stroke-width="2.2"/>
<circle cx="1863.7" cy="804.3" r="6.7" fill="#d3d3d3" stroke-width="2.2"/>
<circle cx="1881.7" cy="804.3" r="6.7" fill="#d3d3d3" stroke-width="2.2"/>
<circle cx="1828.1" cy="810.4" r="6.7" fill="#d3d3d3" stroke-width="2.2"/>
<circle cx="1956.3" cy="757" r="6.7" fill="#808080" stroke-width="2.2"/>
<circle cx="1929.8" cy="774.5" r="6.7" fill="#808080" stroke-width="2.2"/>
<circle cx="1956.3" cy="786.2" r="6.7" fill="#808080" stroke-width="2.2"/>
<circle cx="1929.8" cy="845.6" r="6.7" fill="#808080" stroke-width="2.2"/>
<circle cx="1983.1" cy="851.5" r="6.7" fill="#808080" stroke-width="2.2"/>
<circle cx="1956.3" cy="857.6" r="6.7" fill="#808080" stroke-width="2.2"/>
<circle cx="1956.3" cy="875.2" r="6.7" fill="#808080" stroke-width="2.2"/>
<text transform="translate(1724.5 856) rotate(-90)" text-anchor="middle" style="font-size:29.8px">ΔBody weight (g)</text>
<text transform="translate(1855.6 1079)" text-anchor="middle">Isotonic</text>
<text transform="translate(1854.7 1111.5)" text-anchor="middle">saline</text>
<text transform="translate(1955.7 1079)" text-anchor="middle">CaCl<tspan font-size="22" dy="7.4">2</tspan></text>
</svg>
</body>
</html>
